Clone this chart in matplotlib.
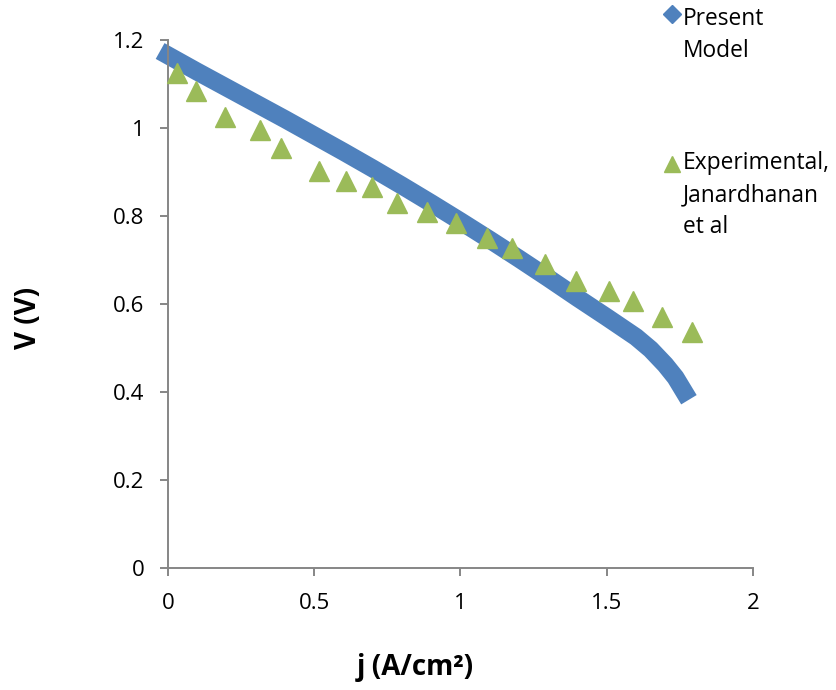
import matplotlib
matplotlib.use("Agg")
import matplotlib.pyplot as plt
from matplotlib.lines import Line2D
from matplotlib.legend_handler import HandlerLine2D
from matplotlib.ticker import FormatStrFormatter

# Present model (thick band of diamonds in the original)
j_model = [0.0, 0.1, 0.2, 0.3, 0.4, 0.5, 0.6, 0.7, 0.8, 0.9, 1.0, 1.1,
           1.2, 1.3, 1.4, 1.5, 1.6, 1.65, 1.7, 1.735, 1.765]
v_model = [1.165, 1.128, 1.092, 1.056, 1.020, 0.983, 0.946, 0.908, 0.869,
           0.829, 0.788, 0.746, 0.703, 0.659, 0.614, 0.570, 0.525, 0.497,
           0.462, 0.433, 0.400]

# Experimental, Janardhanan et al
j_exp = [0.030, 0.095, 0.195, 0.315, 0.386, 0.516, 0.607, 0.697, 0.782, 0.884,
         0.984, 1.092, 1.176, 1.289, 1.394, 1.508, 1.589, 1.690, 1.790]
v_exp = [1.126, 1.083, 1.024, 0.995, 0.954, 0.903, 0.880, 0.867, 0.829, 0.808,
         0.783, 0.751, 0.727, 0.692, 0.653, 0.630, 0.607, 0.571, 0.536]

x_ticks = [0, 0.5, 1, 1.5, 2]
y_ticks = [0, 0.2, 0.4, 0.6, 0.8, 1.0, 1.2]
labels = ["Present\nModel", "Experimental,\nJanardhanan\net al"]

BLUE = "#4f81bd"
GREEN = "#9bbb59"
AXIS = "#868686"
FONT = ["Open Sans", "DejaVu Sans"]

plt.rcParams["font.family"] = FONT


class LiftedHandler(HandlerLine2D):
    # put the legend marker beside the first line of a multi-line label
    def __init__(self, lift, **kw):
        super().__init__(**kw)
        self.lift = lift

    def create_artists(self, legend, orig_handle, xdescent, ydescent,
                       width, height, fontsize, trans):
        return super().create_artists(legend, orig_handle, xdescent,
                                      ydescent - 2 * self.lift * fontsize,
                                      width, height, fontsize, trans)


W, H = 837, 690
fig = plt.figure(figsize=(W / 100, H / 100), dpi=100)
ax = fig.add_axes([168 / W, 1 - 568 / H, 585 / W, 528 / H])

ax.plot(j_model, v_model, color=BLUE, lw=13, solid_capstyle="projecting",
        solid_joinstyle="round", clip_on=False, zorder=2)
ax.plot(j_exp, v_exp, ls="none", marker="^", ms=14, color=GREEN,
        clip_on=False, zorder=3)

ax.set_xlim(0, 2)
ax.set_ylim(0, 1.2)
ax.set_xticks(x_ticks)
ax.set_yticks(y_ticks)
ax.xaxis.set_major_formatter(FormatStrFormatter("%g"))
ax.yaxis.set_major_formatter(FormatStrFormatter("%g"))

for s in ["top", "right"]:
    ax.spines[s].set_visible(False)
for s in ["left", "bottom"]:
    ax.spines[s].set_color(AXIS)
    ax.spines[s].set_linewidth(1.4)

ax.tick_params(direction="out", length=6, width=1.4, color=AXIS,
               labelsize=16, labelcolor="black")
ax.tick_params(axis="x", pad=12)
ax.tick_params(axis="y", pad=11)

ax.set_xlabel("j (A/cm²)", fontsize=20, fontweight="bold")
ax.xaxis.set_label_coords((415 - 168) / 585, -(667 - 568) / 528)
ax.xaxis.label.set_va("center")
ax.set_ylabel("V (V)", fontsize=20, fontweight="bold")
ax.yaxis.set_label_coords((28 - 168) / 585, (568 - 318) / 528)
ax.yaxis.label.set_va("center")

h_model = Line2D([], [], ls="none", marker="D", ms=9, color=BLUE)
h_exp = Line2D([], [], ls="none", marker="^", ms=12, color=GREEN)
leg = fig.legend([h_model, h_exp], labels, loc="upper left",
                 bbox_to_anchor=(665 / W, 1 - 7 / H), frameon=False,
                 borderpad=0, borderaxespad=0, handlelength=0.6,
                 handletextpad=0.2, labelspacing=3.9, fontsize=16.4,
                 handler_map={h_model: LiftedHandler(0.94),
                              h_exp: LiftedHandler(1.41)})
for t in leg.get_texts():
    t.set_linespacing(1.42)

fig.savefig("out.png", dpi=100)
